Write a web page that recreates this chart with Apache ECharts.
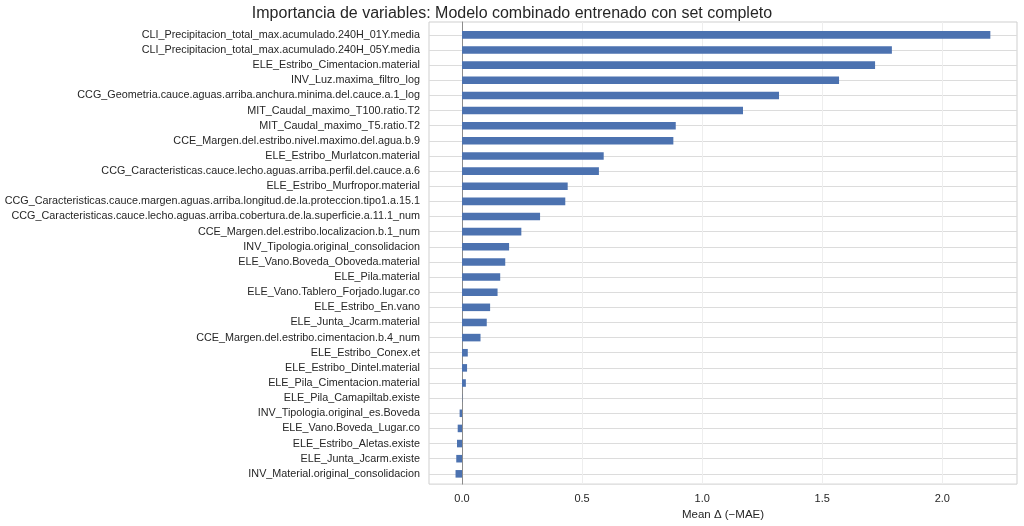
<!DOCTYPE html>
<html lang="es">
<head>
    <meta charset="UTF-8">
    <title>Importancia de variables</title>
    <script src="https://cdn.jsdelivr.net/npm/echarts@6/dist/echarts.min.js"></script>
    <style>
        html, body { margin: 0; padding: 0; background: #fff; }
        #main { width: 1024px; height: 526px; }
    </style>
</head>
<body>
<div id="main"></div>
<script>
    // variables, de mayor a menor importancia
    var variables = [
        'CLI_Precipitacion_total_max.acumulado.240H_01Y.media',
        'CLI_Precipitacion_total_max.acumulado.240H_05Y.media',
        'ELE_Estribo_Cimentacion.material',
        'INV_Luz.maxima_filtro_log',
        'CCG_Geometria.cauce.aguas.arriba.anchura.minima.del.cauce.a.1_log',
        'MIT_Caudal_maximo_T100.ratio.T2',
        'MIT_Caudal_maximo_T5.ratio.T2',
        'CCE_Margen.del.estribo.nivel.maximo.del.agua.b.9',
        'ELE_Estribo_Murlatcon.material',
        'CCG_Caracteristicas.cauce.lecho.aguas.arriba.perfil.del.cauce.a.6',
        'ELE_Estribo_Murfropor.material',
        'CCG_Caracteristicas.cauce.margen.aguas.arriba.longitud.de.la.proteccion.tipo1.a.15.1',
        'CCG_Caracteristicas.cauce.lecho.aguas.arriba.cobertura.de.la.superficie.a.11.1_num',
        'CCE_Margen.del.estribo.localizacion.b.1_num',
        'INV_Tipologia.original_consolidacion',
        'ELE_Vano.Boveda_Oboveda.material',
        'ELE_Pila.material',
        'ELE_Vano.Tablero_Forjado.lugar.co',
        'ELE_Estribo_En.vano',
        'ELE_Junta_Jcarm.material',
        'CCE_Margen.del.estribo.cimentacion.b.4_num',
        'ELE_Estribo_Conex.et',
        'ELE_Estribo_Dintel.material',
        'ELE_Pila_Cimentacion.material',
        'ELE_Pila_Camapiltab.existe',
        'INV_Tipologia.original_es.Boveda',
        'ELE_Vano.Boveda_Lugar.co',
        'ELE_Estribo_Aletas.existe',
        'ELE_Junta_Jcarm.existe',
        'INV_Material.original_consolidacion'
    ];

    // Mean Δ (−MAE)
    var importancia = [
        2.20, 1.79, 1.72, 1.57, 1.32, 1.17, 0.89, 0.88, 0.59, 0.57,
        0.44, 0.43, 0.325, 0.247, 0.196, 0.18, 0.159, 0.148, 0.117, 0.103,
        0.077, 0.024, 0.021, 0.016, 0.001, -0.010, -0.018, -0.021, -0.024, -0.027
    ];

    var xTicks = [0, 0.5, 1.0, 1.5, 2.0];
    var xMin = -0.1375, xMax = 2.311;

    var textColor = '#262626';
    var font = 'Liberation Sans, Arial, sans-serif';

    var myChart = echarts.init(document.getElementById('main'), null, {renderer: 'canvas'});

    myChart.setOption({
        backgroundColor: '#ffffff',
        animation: false,
        textStyle: { fontFamily: font },
        title: {
            text: 'Importancia de variables: Modelo combinado entrenado con set completo',
            left: 'center',
            top: 1,
            textStyle: { fontFamily: font, fontSize: 16, fontWeight: 'normal', color: textColor }
        },
        grid: [
            // marco + rejilla vertical
            { left: 429, right: 7, top: 22, bottom: 39, show: true, borderColor: '#cfcfcf', borderWidth: 1, backgroundColor: 'transparent' },
            // barras (con hueco extra arriba y abajo como en matplotlib)
            { left: 429, right: 7, top: 27.3, bottom: 44.6, show: false }
        ],
        xAxis: [
            {
                type: 'value', gridIndex: 0, min: xMin, max: xMax,
                name: 'Mean Δ (−MAE)', nameLocation: 'middle', nameGap: 24,
                nameTextStyle: { fontFamily: font, fontSize: 11.5, color: textColor },
                axisLine: { show: false },
                axisTick: { show: false, customValues: xTicks },
                axisLabel: {
                    customValues: xTicks, margin: 9, fontSize: 11, color: textColor,
                    formatter: function (v) { return v.toFixed(1); }
                },
                splitLine: { show: true, lineStyle: { color: '#eeeeee', width: 1 } }
            },
            {
                type: 'value', gridIndex: 1, min: xMin, max: xMax, show: false
            }
        ],
        yAxis: [
            {
                // solo sirve para la línea vertical en x = 0
                type: 'value', gridIndex: 0, min: 0, max: 1,
                axisLine: { show: true, onZero: true, lineStyle: { color: '#8c8c8c', width: 1 } },
                axisTick: { show: false },
                axisLabel: { show: false },
                splitLine: { show: false }
            },
            {
                type: 'category', gridIndex: 1, inverse: true,
                data: variables,
                axisLine: { show: false },
                axisTick: { show: false },
                axisLabel: { fontSize: 10.8, color: textColor, margin: 9, interval: 0 },
                splitLine: { show: true, alignWithLabel: true, lineStyle: { color: '#dcdcdc', width: 1 } }
            }
        ],
        series: [
            {
                type: 'bar',
                xAxisIndex: 1,
                yAxisIndex: 1,
                data: importancia,
                barWidth: '50%',
                itemStyle: { color: '#4c72b0' },
                z: 3
            }
        ]
    });
</script>
</body>
</html>
